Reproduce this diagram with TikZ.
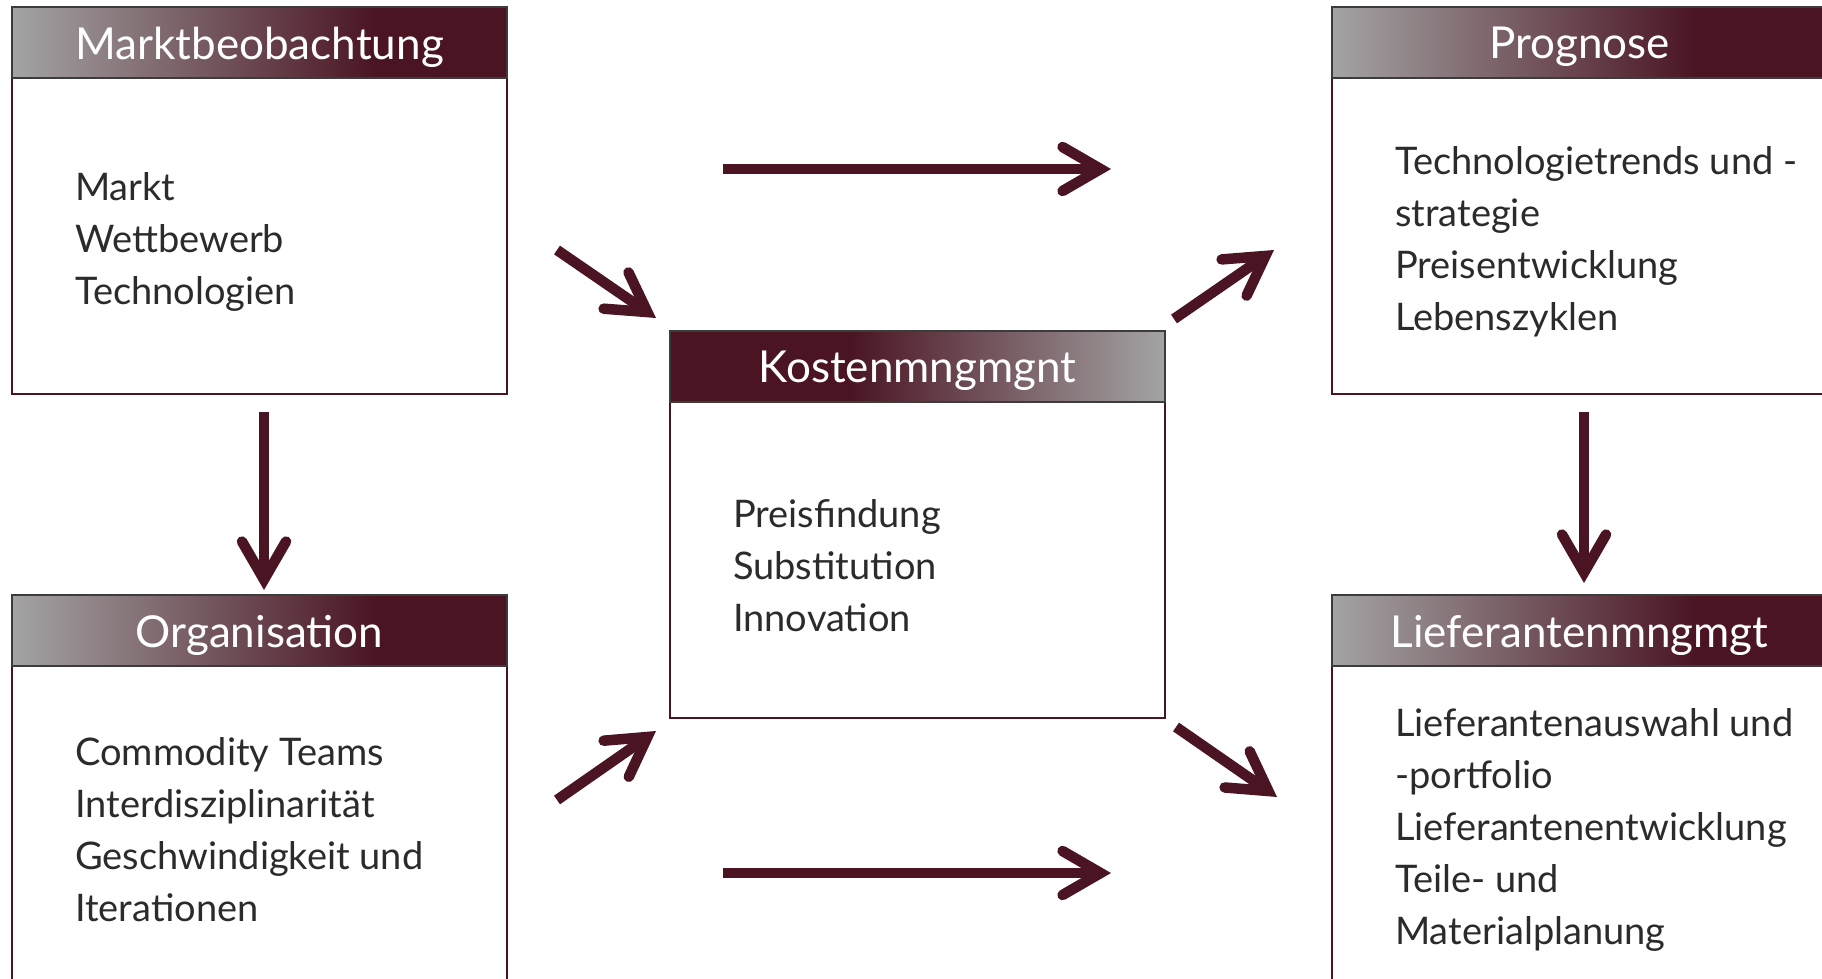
\documentclass[tikz,border=0pt]{standalone}
\usepackage{fontspec}
\setmainfont{Lato}
\usetikzlibrary{arrows.meta}

\definecolor{maroon}{HTML}{4A1422}
\definecolor{hdrgray}{HTML}{A4A4A4}
\definecolor{hdrline}{HTML}{3C3C3C}
\definecolor{bodyink}{HTML}{2B2B2B}

\pgfdeclarehorizontalshading{grayleft}{100bp}{color(0bp)=(hdrgray); color(25bp)=(hdrgray); color(62bp)=(maroon); color(100bp)=(maroon)}
\pgfdeclarehorizontalshading{grayright}{100bp}{color(0bp)=(maroon); color(25bp)=(maroon); color(43bp)=(maroon); color(75bp)=(hdrgray); color(100bp)=(hdrgray)}

\tikzset{
    boxframe/.style={rectangle, draw=maroon, line width=2pt, fill=white, minimum width=495pt, minimum height=387pt, anchor=north west, inner sep=0pt, outer sep=0pt},
    hdrbar/.style={rectangle, draw=hdrline, line width=2pt, shade, shading=#1, minimum width=495pt, minimum height=71pt, anchor=north west, inner sep=0pt, outer sep=0pt},
    hdrtext/.style={text=white, font=\fontsize{44}{52}\selectfont, inner sep=0pt},
    bodytext/.style={text=bodyink, font=\fontsize{38}{52}\selectfont, align=left, anchor=west, inner sep=0pt},
    flow/.style={draw=maroon, line width=10.5pt, -{Straight Barb[length=38pt, width=44pt, line cap=round, line join=miter]}}
}

\NewDocumentCommand{\infobox}{mmmmmm}{%
\begin{scope}[shift={(#2,#3)}]%
\node[boxframe] (#1) at (0,0) {};%
\node[hdrbar=#4] (#1-hdr) at (0,0) {};%
\node[hdrtext] (#1-title) at (247.5,40) {#5};%
\node[bodytext] (#1-body) at (63,235) {#6};%
\end{scope}%
}

\begin{document}
\begin{tikzpicture}[x=1pt, y=-1pt]
        \path[use as bounding box, clip] (0,0) rectangle (1822,979);

        % boxes
        \infobox{markt}{12}{7}{grayleft}{Marktbeobachtung}{Markt\\Wettbewerb\\Technologien}
        \infobox{prognose}{1332}{7}{grayleft}{Prognose}{Technologietrends und -\\strategie\\Preisentwicklung\\Lebenszyklen}
        \infobox{kosten}{670}{331}{grayright}{Kostenmngmgnt}{Preisfindung\\Substitution\\Innovation}
        \infobox{orga}{12}{595}{grayleft}{Organisation}{Commodity Teams\\Interdisziplinarität\\Geschwindigkeit und\\Iterationen}
        \infobox{liefer}{1332}{595}{grayleft}{Lieferantenmngmgt}{Lieferantenauswahl und\\-portfolio\\Lieferantenentwicklung\\Teile- und\\Materialplanung}

        % arrow ends
        \coordinate (md-a) at (264,412);
        \coordinate (md-b) at (264,590);
        \coordinate (pd-a) at (1584,412);
        \coordinate (pd-b) at (1584,583);
        \coordinate (top-a) at (723,169);
        \coordinate (top-b) at (1111,169);
        \coordinate (bot-a) at (723,873);
        \coordinate (bot-b) at (1111,873);
        \coordinate (tl-a) at (557,250);
        \coordinate (tl-b) at (656,318);
        \coordinate (tr-a) at (1174,319);
        \coordinate (tr-b) at (1274,250);
        \coordinate (bl-a) at (557,800);
        \coordinate (bl-b) at (656,731);
        \coordinate (br-a) at (1176,727);
        \coordinate (br-b) at (1277,797);

        % arrows
        \draw[flow] (md-a) -- (md-b);
        \draw[flow] (pd-a) -- (pd-b);
        \draw[flow] (top-a) -- (top-b);
        \draw[flow] (bot-a) -- (bot-b);
        \draw[flow] (tl-a) -- (tl-b);
        \draw[flow] (tr-a) -- (tr-b);
        \draw[flow] (bl-a) -- (bl-b);
        \draw[flow] (br-a) -- (br-b);
\end{tikzpicture}
\end{document}
